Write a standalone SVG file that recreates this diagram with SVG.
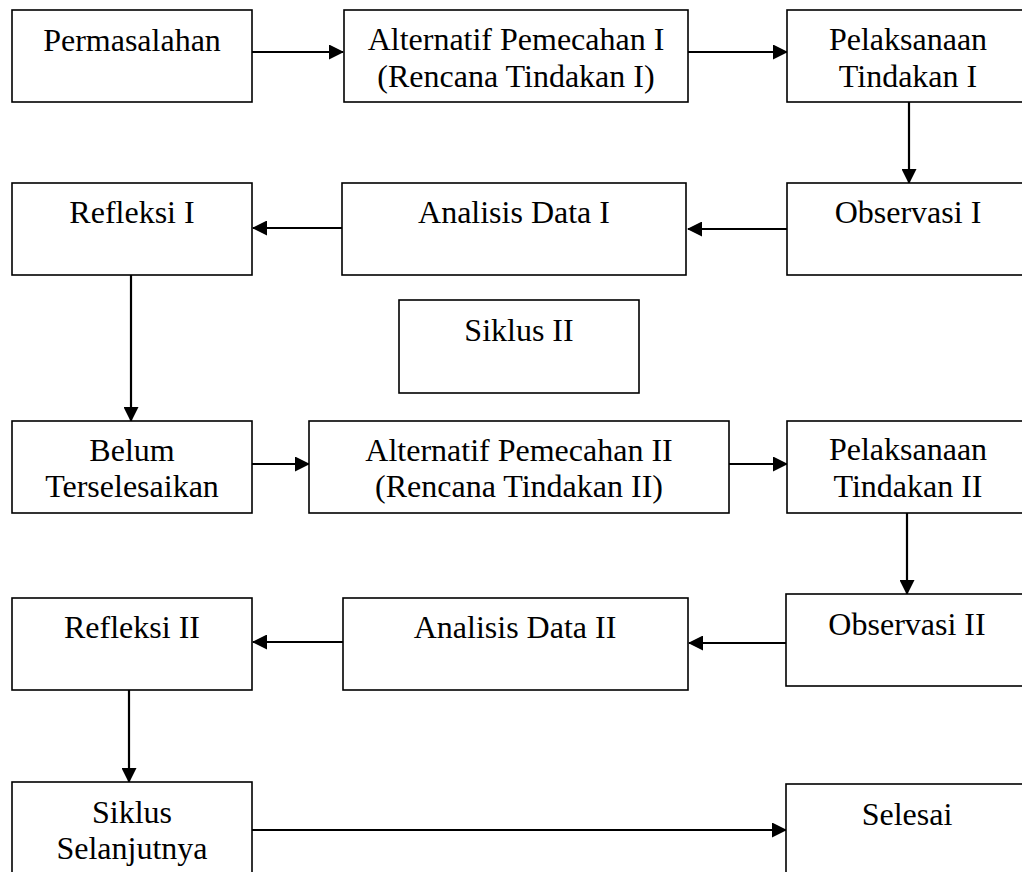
<svg xmlns="http://www.w3.org/2000/svg" width="1022" height="872" viewBox="0 0 1022 872">
<style>
.box{fill:#fff;stroke:#000;stroke-width:1.6}
.t{font-family:"Liberation Serif","Times New Roman",serif;font-size:32px;fill:#000;text-anchor:middle}
.c{fill:none;stroke:#000;stroke-width:2.2;marker-end:url(#ah)}
</style>
<defs>
<marker id="ah" viewBox="0 0 15 15" refX="14" refY="7.5" markerWidth="15" markerHeight="15" markerUnits="userSpaceOnUse" orient="auto">
<path d="M0,0 L15,7.5 L0,15 Z" fill="#000"/>
</marker>
</defs>
<rect width="1022" height="872" fill="#fff"/>
<g id="connectors">
<path class="c" d="M252,52 H343"/>
<path class="c" d="M688,52 H787"/>
<path class="c" d="M909,102 V183"/>
<path class="c" d="M787,229 H688"/>
<path class="c" d="M345,228 H253"/>
<path class="c" d="M131,275 V421"/>
<path class="c" d="M252,464 H309"/>
<path class="c" d="M729,464 H787"/>
<path class="c" d="M907,513 V594"/>
<path class="c" d="M789,643 H689"/>
<path class="c" d="M344,642 H253"/>
<path class="c" d="M129,690 V782"/>
<path class="c" d="M252,830 H786"/>
</g>
<g id="permasalahan"><rect class="box" x="12" y="10" width="240" height="92"/><text class="t" x="132" y="51">Permasalahan</text></g>
<g id="alt1"><rect class="box" x="344" y="10" width="344" height="92"/><text class="t" x="516" y="50">Alternatif Pemecahan I</text><text class="t" x="516" y="87">(Rencana Tindakan I)</text></g>
<g id="pel1"><rect class="box" x="787" y="10" width="242" height="92"/><text class="t" x="908" y="50">Pelaksanaan</text><text class="t" x="908" y="87">Tindakan I</text></g>
<g id="obs1"><rect class="box" x="787" y="183" width="242" height="92"/><text class="t" x="908" y="223">Observasi I</text></g>
<g id="analisis1"><rect class="box" x="342" y="183" width="344" height="92"/><text class="t" x="514" y="223">Analisis Data I</text></g>
<g id="refleksi1"><rect class="box" x="12" y="183" width="240" height="92"/><text class="t" x="132" y="223">Refleksi I</text></g>
<g id="siklus2"><rect class="box" x="399" y="300" width="240" height="93"/><text class="t" x="519" y="341">Siklus II</text></g>
<g id="belum"><rect class="box" x="12" y="421" width="240" height="92"/><text class="t" x="132" y="461">Belum</text><text class="t" x="132" y="497">Terselesaikan</text></g>
<g id="alt2"><rect class="box" x="309" y="421" width="420" height="92"/><text class="t" x="519" y="461">Alternatif Pemecahan II</text><text class="t" x="519" y="497">(Rencana Tindakan II)</text></g>
<g id="pel2"><rect class="box" x="787" y="421" width="242" height="92"/><text class="t" x="908" y="460">Pelaksanaan</text><text class="t" x="908" y="497">Tindakan II</text></g>
<g id="obs2"><rect class="box" x="786" y="594" width="243" height="92"/><text class="t" x="907" y="635">Observasi II</text></g>
<g id="analisis2"><rect class="box" x="343" y="598" width="345" height="92"/><text class="t" x="515" y="638">Analisis Data II</text></g>
<g id="refleksi2"><rect class="box" x="12" y="598" width="240" height="92"/><text class="t" x="132" y="638">Refleksi II</text></g>
<g id="siklus-selanjutnya"><rect class="box" x="12" y="782" width="240" height="100"/><text class="t" x="132" y="823">Siklus</text><text class="t" x="132" y="859">Selanjutnya</text></g>
<g id="selesai"><rect class="box" x="786" y="784" width="243" height="100"/><text class="t" x="907" y="825">Selesai</text></g>
</svg>
